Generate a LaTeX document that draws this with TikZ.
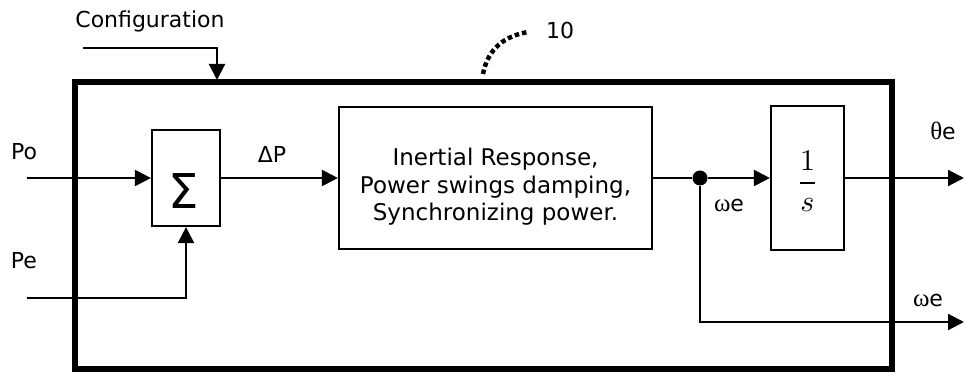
\documentclass[tikz,border=0pt]{standalone}
\usepackage{fontspec}
\setmainfont{DejaVu Sans}
\newfontfamily\greekfont{Liberation Serif}
\newcommand{\gk}[1]{{\greekfont\fontsize{25}{25}\selectfont #1}}
\usetikzlibrary{arrows.meta}
\begin{document}
\begin{tikzpicture}[x=1pt,y=-1pt,
    every node/.style={inner sep=0pt,font=\fontsize{22}{27.5}\selectfont},
    block/.style={draw,line width=2.2pt},
    signal/.style={line width=2.2pt,-{Triangle[length=16pt,width=16pt]}},
    wire/.style={line width=2.2pt}]
  \useasboundingbox (0,0) rectangle (966,374);
  \node (frame) [draw,line width=5.5pt,minimum width=817pt,minimum height=287pt] at (483.5,225.5) {};
  \draw
    (186,178) node (sum) [block,minimum width=68pt,minimum height=96pt] {}
    (184,191) node (sigma) [font=\fontsize{48}{48}\selectfont] {Σ}
    (495.5,178) node (inertia) [block,minimum width=313pt,minimum height=142pt] {}
    (495.5,187) node (inertia text) [align=center,font=\fontsize{23}{27.5}\selectfont]
      {Inertial Response,\\Power swings damping,\\Synchronizing power.}
    (807.5,178) node (integ) [block,minimum width=73pt,minimum height=144pt] {}
    (807.5,181) node (frac) [font=\normalsize] {\scalebox{3}{$\displaystyle\frac{1}{s}$}}
    (700,178) node (split) [circle,fill,minimum size=15pt] {};
  \draw
    (150,21) node (config) {Configuration}
    (24,152) node (po) {Po}
    (24,261) node (pe) {Pe}
    (272,154) node (dp) {ΔP}
    (729,205) node (we) {\gk{ω}e}
    (943,131) node (theta) {\gk{θ}e}
    (928,300) node (weout) {\gk{ω}e}
    (560,30) node (ref) {10};
  \coordinate (cfg in) at (83,48);
  \coordinate (cfg drop) at (217,80);
  \coordinate (po in) at (27,178);
  \coordinate (pe in) at (27,298);
  \coordinate (theta out) at (964,178);
  \coordinate (omega out) at (964,322);
  \begin{scope}[signal]
    \draw (cfg in) -| (cfg drop);
    \draw (po in) -- (sum);
    \draw (pe in) -| (sum);
    \draw (sum) -- (inertia);
    \draw (split) -- (integ);
    \draw (integ) -- (theta out);
    \draw (split) |- (omega out);
  \end{scope}
  \draw[wire] (inertia) -- (split);
  \draw[line width=4.5pt,dash pattern=on 4.5pt off 3pt] (483,74) .. controls (488,48) and (505,36) .. (528,32);
\end{tikzpicture}
\end{document}
